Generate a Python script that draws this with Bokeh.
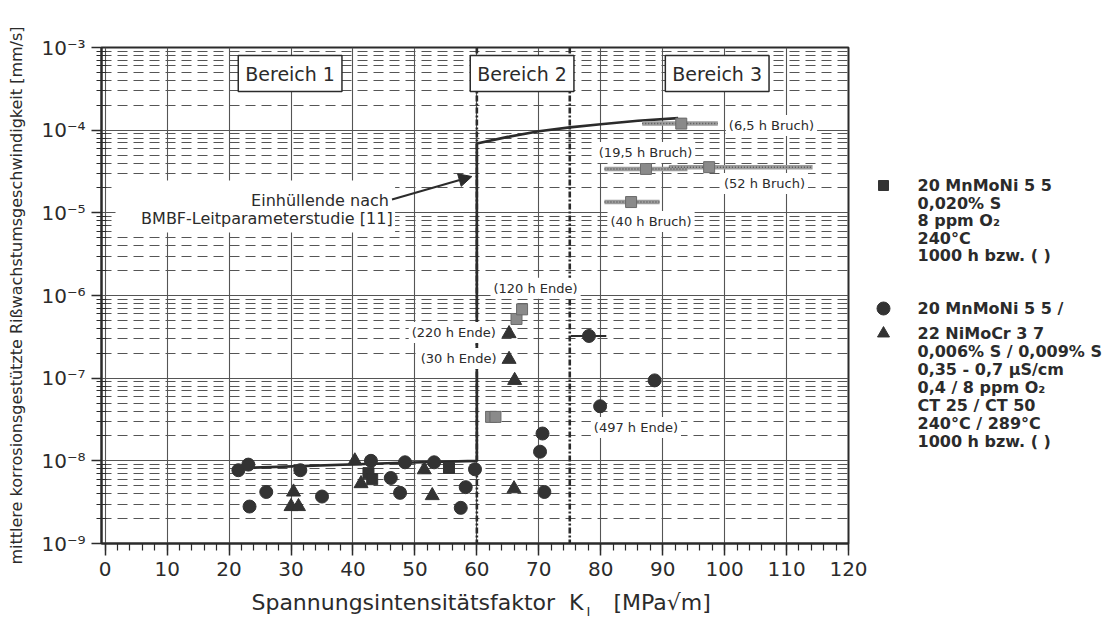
from bokeh.plotting import figure
from bokeh.models import (Label, Arrow, NormalHead, Span, BoxAnnotation, FixedTicker,
                          SingleIntervalTicker, CustomJSTickFormatter, Range1d)
from bokeh.core.properties import value
from bokeh.layouts import column, row
from bokeh.embed import file_html
from bokeh.resources import INLINE

# ---------------- data ----------------
# 20 MnMoNi 5 5 / 22 NiMoCr 3 7 : circles
circle_k = [21.5, 23.1, 23.3, 26.0, 31.5, 35.0, 42.9, 46.1, 47.6, 48.4, 53.1, 57.4, 58.2, 59.7,
            70.2, 70.6, 70.9, 78.1, 79.9, 88.7]
circle_v = [7.7e-9, 9.0e-9, 2.8e-9, 4.2e-9, 7.7e-9, 3.7e-9, 1.0e-8, 6.2e-9, 4.1e-9, 9.6e-9,
            9.6e-9, 2.7e-9, 4.8e-9, 7.9e-9, 1.29e-8, 2.14e-8, 4.2e-9, 3.24e-7, 4.57e-8, 9.4e-8]
# triangles
tri_k = [30.0, 31.2, 30.4, 40.3, 41.3, 51.5, 52.8, 65.2, 65.2, 66.1, 66.0]
tri_v = [2.8e-9, 2.8e-9, 4.2e-9, 1.0e-8, 5.3e-9, 7.8e-9, 3.8e-9, 3.46e-7, 1.69e-7, 9.4e-8, 4.6e-9]
# 20 MnMoNi 5 5, 0,020% S : solid squares
sq_k = [42.5, 43.1, 55.5]
sq_v = [7.1e-9, 6.0e-9, 8.2e-9]
# hatched (grey) squares
hsq_k = [62.3, 63.0, 66.4, 67.3, 84.9, 87.3, 93.0, 97.5]
hsq_v = [3.4e-8, 3.4e-8, 5.2e-7, 6.8e-7, 1.35e-5, 3.4e-5, 1.2e-4, 3.57e-5]
# hatched range bars of the fracture tests
bar_k0 = [86.7, 80.6, 91.0, 80.6]
bar_k1 = [98.9, 94.0, 114.2, 89.5]
bar_v = [1.2e-4, 3.4e-5, 3.57e-5, 1.35e-5]
# range bar of one circle
cbar_k0 = [75.2]
cbar_k1 = [80.9]
cbar_v = [3.24e-7]
# envelope (BMBF-Leitparameterstudie)
env_k = [22.5, 48.0, 60.0, 60.0, 65.0, 70.0, 75.0, 80.0, 86.0, 92.5]
env_v = [8.2e-9, 9.5e-9, 1.0e-8, 6.9e-5, 8.3e-5, 9.7e-5, 1.08e-4, 1.18e-4, 1.3e-4, 1.4e-4]
# region boundaries
region_bounds = [60, 75]
region_labels = ["Bereich 1", "Bereich 2", "Bereich 3"]

bruch_labels = ["(6,5 h Bruch)", "(19,5 h Bruch)", "(52 h Bruch)", "(40 h Bruch)"]
ende_labels = ["(120 h Ende)", "(220 h Ende)", "(30 h Ende)", "(497 h Ende)"]

x_ticks_interval = 10
y_major = [10.0 ** e for e in range(-9, -2)]
y_minor = [m * 10.0 ** e for e in range(-9, -3) for m in range(2, 10)]

legend_sq = ["20 MnMoNi 5 5", "0,020% S", "8 ppm O\u2082", "240°C", "1000 h bzw. ( )"]
legend_ci = ["20 MnMoNi 5 5 /", "22 NiMoCr 3 7", "0,006% S / 0,009% S", "0,35 - 0,7 µS/cm",
             "0,4 / 8 ppm O\u2082", "CT 25 / CT 50", "240°C / 289°C", "1000 h bzw. ( )"]

x_title = "Spannungsintensitätsfaktor\u00a0\u00a0K"
x_title_sub = "I"
x_title_unit = "[MPa√m]"
y_title = "mittlere korrosionsgestützte Rißwachstumsgeschwindigkeit [mm/s]"

# ---------------- styling ----------------
FONT = "DejaVu Sans"
INK = "#2b2b2b"
GRID = "#555555"
PW = 872          # width of the main plot canvas (frame ends at 848)
PH = 585          # height of the main plot canvas
TOP, BOT = 47, 543  # frame top / bottom in page pixels

p = figure(width=PW, height=PH, x_range=(-0.6, 120), y_range=(1e-9, 1e-3),
           y_axis_type="log", output_backend="svg", toolbar_location=None,
           min_border_left=101, min_border_right=PW - 848, min_border_top=TOP,
           min_border_bottom=PH - BOT,
           background_fill_color="white", border_fill_color="white")
p.outline_line_color = INK
p.outline_line_width = 2

xt = SingleIntervalTicker(interval=x_ticks_interval, num_minor_ticks=5)
yt = FixedTicker(ticks=y_major, minor_ticks=y_minor)
p.xaxis.ticker = xt
p.yaxis.ticker = yt
p.xgrid.ticker = xt
p.ygrid.ticker = yt

p.xgrid.grid_line_color = GRID
p.xgrid.grid_line_width = 1.1
p.ygrid.grid_line_color = GRID
p.ygrid.grid_line_width = 1.2
p.ygrid.minor_grid_line_color = GRID
p.ygrid.minor_grid_line_width = 1.2
p.ygrid.minor_grid_line_dash = "10 6"

p.yaxis.formatter = CustomJSTickFormatter(code="""
const sup = {"-":"\u207b","0":"\u2070","1":"\u00b9","2":"\u00b2","3":"\u00b3","4":"\u2074",
             "5":"\u2075","6":"\u2076","7":"\u2077","8":"\u2078","9":"\u2079"};
const e = Math.round(Math.log10(tick));
return "10" + String(e).split("").map(c => sup[c]).join("");
""")

for ax in (p.xaxis[0], p.yaxis[0]):
    ax.axis_line_color = INK
    ax.axis_line_width = 2
    ax.major_tick_line_color = INK
    ax.minor_tick_line_color = INK
    ax.major_tick_line_width = 1.5
    ax.minor_tick_line_width = 1.2
    ax.major_label_text_font = FONT
    ax.major_label_text_color = INK
    ax.major_label_text_font_size = "20px"
    ax.axis_label_text_font = FONT
    ax.axis_label_text_color = INK
    ax.axis_label_text_font_style = "normal"

p.xaxis.major_tick_in = 0
p.xaxis.major_tick_out = 12
p.xaxis.minor_tick_in = 0
p.xaxis.minor_tick_out = 7
p.xaxis.major_label_standoff = 6

p.yaxis.major_tick_in = 0
p.yaxis.major_tick_out = 10
p.yaxis.minor_tick_in = 5
p.yaxis.minor_tick_out = 5
p.yaxis.major_label_standoff = 6
p.yaxis.axis_label = y_title
p.yaxis.axis_label_text_font_size = "16px"
p.yaxis.axis_label_standoff = 12

# region boundaries (dash-dot)
for bnd in region_bounds:
    p.add_layout(Span(location=bnd, dimension="height", line_color=INK, line_width=2.6,
                      line_dash="6 2 2 2", level="underlay"))

# envelope
p.line(env_k, env_v, line_color=INK, line_width=2.6)

# range bars
p.segment(x0=bar_k0, y0=bar_v, x1=bar_k1, y1=bar_v, line_color="#9c9c9c", line_width=4.5)
p.segment(x0=bar_k0, y0=bar_v, x1=bar_k1, y1=bar_v, line_color="#555555", line_width=1.5,
          line_dash="1 2")
p.segment(x0=cbar_k0, y0=cbar_v, x1=cbar_k1, y1=cbar_v, line_color=INK, line_width=2)

# markers
p.scatter(hsq_k, hsq_v, marker="square", size=11, fill_color="#8a8a8a", line_color="#6a6a6a")
p.scatter(sq_k, sq_v, marker="square", size=11, fill_color="#333333", line_color="#333333")
p.scatter(circle_k, circle_v, marker="circle", size=13, fill_color="#333333", line_color="#333333")
p.scatter(tri_k, tri_v, marker="triangle", size=14, fill_color="#333333", line_color="#333333")

# white mask behind the envelope caption
p.add_layout(BoxAnnotation(left=1.66, right=46.8, bottom=5.78e-6, top=2.46e-5,
                           fill_color="white", fill_alpha=1.0, line_color=None))

# region boxes
region_anchor_k = [29.85, 67.3, 98.8]
for t, k in zip(region_labels, region_anchor_k):
    p.add_layout(Label(x=k, y=4.84e-4, text=t, text_align="center", text_baseline="middle",
                       text_font=FONT, text_font_size="19px", text_color=INK,
                       border_line_color=INK, border_line_width=1.5,
                       background_fill_color="white", padding=7))

# test duration labels
bruch_anchor = [(100.2, 1.14e-4), (79.2, 5.37e-5), (99.4, 2.26e-5), (81.1, 7.85e-6)]
ende_anchor = [(62.2, 1.22e-6), (49.0, 3.57e-7), (50.45, 1.73e-7), (78.4, 2.53e-8)]
for t, (k, v) in zip(bruch_labels + ende_labels, bruch_anchor + ende_anchor):
    p.add_layout(Label(x=k, y=v, text=t, text_align="left", text_baseline="middle",
                       text_font=FONT, text_font_size="13px", text_color=INK,
                       background_fill_color="white", padding=3))

# envelope caption + arrow
p.add_layout(Label(x=45.8, y=1.41e-5, text="Einhüllende nach", text_align="right",
                   text_baseline="middle", text_font=FONT, text_font_size="16px", text_color=INK))
p.add_layout(Label(x=46.4, y=8.55e-6, text="BMBF-Leitparameterstudie [11]", text_align="right",
                   text_baseline="middle", text_font=FONT, text_font_size="16px", text_color=INK))
p.add_layout(Arrow(end=NormalHead(size=13, fill_color=INK, line_color=INK),
                   x_start=46.3, y_start=1.45e-5, x_end=59.2, y_end=2.75e-5,
                   line_color=INK, line_width=2))


def blank(w, h, x0, x1, y0, y1, top=0, bottom=0):
    f = figure(width=w, height=h, x_range=Range1d(x0, x1), y_range=Range1d(y0, y1),
               x_axis_type=None, y_axis_type=None, output_backend="svg",
               toolbar_location=None, min_border_left=0, min_border_right=0,
               min_border_top=top, min_border_bottom=bottom,
               background_fill_color="white", border_fill_color="white")
    f.outline_line_color = None
    f.grid.visible = False
    return f


# ---------------- legend panel (page pixel coordinates, frame = TOP..BOT) ----------------
q = blank(1108 - PW, PH, PW, 1108, BOT, TOP, top=TOP, bottom=PH - BOT)
q.scatter([883], [185], marker="square", size=10, fill_color="#333333", line_color="#333333")
q.scatter([883], [308], marker="circle", size=13, fill_color="#333333", line_color="#333333")
q.scatter([883], [333], marker="triangle", size=12, fill_color="#333333", line_color="#333333")
leg_texts = legend_sq + legend_ci
leg_y = [185 + 17.5 * i for i in range(len(legend_sq))] + [308] + \
        [333 + 18 * i for i in range(len(legend_ci) - 1)]
q.text(x=[917] * len(leg_texts), y=leg_y, text=leg_texts, text_font=value(FONT),
       text_font_size="16px", text_font_style="bold", text_color=INK,
       text_align="left", text_baseline="middle")

# ---------------- x-axis title strip ----------------
b = blank(1108, 619 - PH, 0, 1108, 619, PH)
b.text(x=[583], y=[602], text=[x_title], text_font=value(FONT), text_font_size="22px",
       text_color=INK, text_align="right", text_baseline="middle")
b.text(x=[588], y=[611], text=[x_title_sub], text_font=value(FONT), text_font_size="13px",
       text_color=INK, text_align="center", text_baseline="middle")
b.text(x=[613], y=[602], text=[x_title_unit], text_font=value(FONT), text_font_size="22px",
       text_color=INK, text_align="left", text_baseline="middle")

layout = column(row(p, q, spacing=0), b, spacing=0)
open("out.html", "w").write(file_html(layout, INLINE))
